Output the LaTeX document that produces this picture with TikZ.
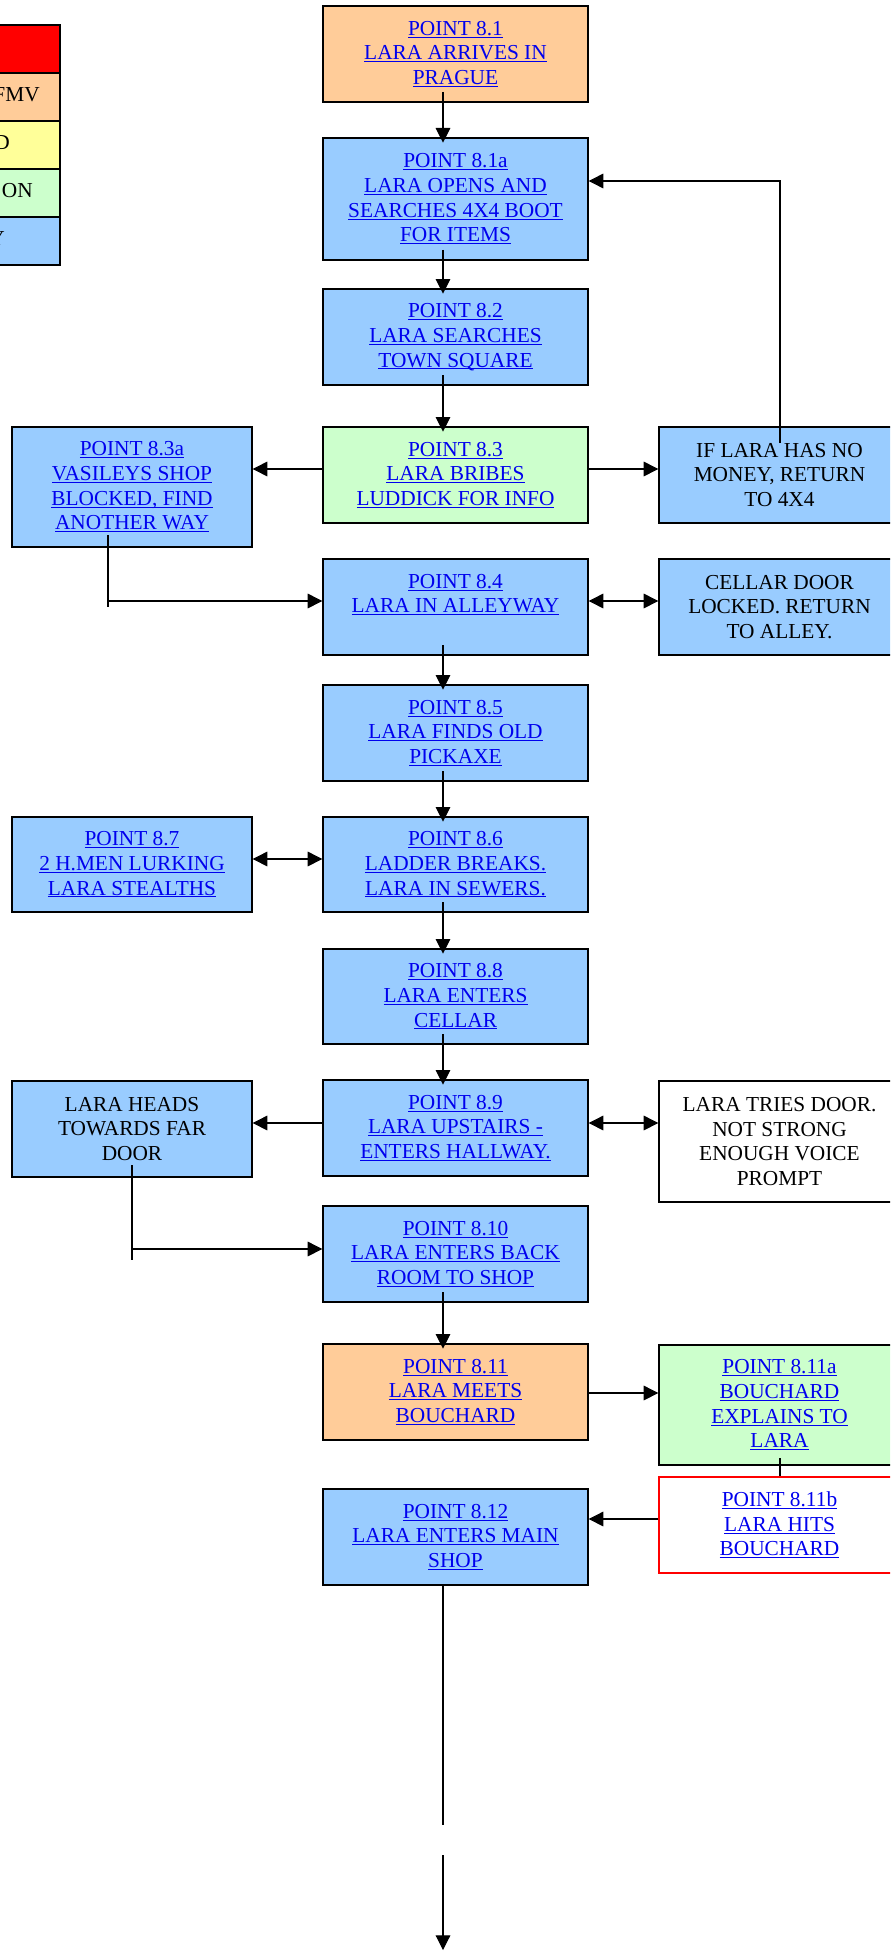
\documentclass[tikz,border=0pt]{standalone}
\usepackage{fontspec}
\setmainfont{Liberation Serif}
\usetikzlibrary{arrows.meta}
\definecolor{cOrange}{HTML}{FFCC99}
\definecolor{cBlue}{HTML}{99CCFF}
\definecolor{cGreen}{HTML}{CCFFCC}
\definecolor{cYellow}{HTML}{FFFF99}
\definecolor{cRed}{HTML}{FF0000}
\definecolor{lnk}{HTML}{0000EE}
\newcommand\lk[1]{\leavevmode\setbox0=\hbox{#1}\rlap{\raisebox{-1.8pt}{\rule{\wd0}{0.75pt}}}\box0}
\newcommand\bx[7]{\node[#6, minimum width={(#4-#2)*0.75pt}, minimum height={(#5-#3)*0.75pt}] (#1) at ({(#2+#4)/2},{(#3+#5)/2}) {#7};}
\tikzset{
  x=0.75pt, y=-0.75pt,
  boxbase/.style={draw=black, line width=1pt, inner sep=0pt, align=center,
    font=\fontsize{16}{18.5}\selectfont},
  bluebox/.style={boxbase, fill=cBlue},
  orangebox/.style={boxbase, fill=cOrange},
  greenbox/.style={boxbase, fill=cGreen},
  whitebox/.style={boxbase, fill=white},
  redbox/.style={boxbase, fill=white, draw=cRed},
  link/.style={text=lnk},
  legbox/.style={draw=black, line width=1.2pt, inner sep=0pt},
  legtext/.style={font=\fontsize{16}{18.5}\selectfont, inner sep=0pt, anchor=base east},
  conn/.style={line width=0.8pt},
  arr/.style={conn, -{Triangle[width=11pt,length=11pt]}},
  darr/.style={conn, {Triangle[width=11pt,length=11pt]}-{Triangle[width=11pt,length=11pt]}},
}
\begin{document}
\begin{tikzpicture}
\useasboundingbox (0,0) rectangle (890,1951);
\clip (0,0) rectangle (890,1951);

% legend
\bx{legR}{-200}{25}{60}{73}{legbox, fill=cRed}{}
\bx{legO}{-200}{73}{60}{121}{legbox, fill=cOrange}{}
\bx{legY}{-200}{121}{60}{169}{legbox, fill=cYellow}{}
\bx{legG}{-200}{169}{60}{217}{legbox, fill=cGreen}{}
\bx{legB}{-200}{217}{60}{265}{legbox, fill=cBlue}{}
\node[legtext] (tO) at (40,102) {FMV};
\node[legtext] (tY) at (10,150) {D};
\node[legtext] (tG) at (33,198) {ON};
\node[legtext] (tB) at (5,246) {Y};

% main column
\bx{p81}{323}{6}{588}{102}{orangebox, link}{\lk{POINT 8.1}\\\lk{LARA ARRIVES IN}\\\lk{PRAGUE}}
\bx{p81a}{323}{138}{588}{260}{bluebox, link}{\lk{POINT 8.1a}\\\lk{LARA OPENS AND}\\\lk{SEARCHES 4X4 BOOT}\\\lk{FOR ITEMS}}
\bx{p82}{323}{289}{588}{385}{bluebox, link}{\lk{POINT 8.2}\\\lk{LARA SEARCHES}\\\lk{TOWN SQUARE}}
\bx{p83}{323}{427}{588}{523}{greenbox, link}{\lk{POINT 8.3}\\\lk{LARA BRIBES}\\\lk{LUDDICK FOR INFO}}
\bx{p84}{323}{559}{588}{655}{bluebox, link}{\lk{POINT 8.4}\\\lk{LARA IN ALLEYWAY}\\\phantom{\lk{A}}}
\bx{p85}{323}{685}{588}{781}{bluebox, link}{\lk{POINT 8.5}\\\lk{LARA FINDS OLD}\\\lk{PICKAXE}}
\bx{p86}{323}{817}{588}{912}{bluebox, link}{\lk{POINT 8.6}\\\lk{LADDER BREAKS.}\\\lk{LARA IN SEWERS.}}
\bx{p88}{323}{949}{588}{1044}{bluebox, link}{\lk{POINT 8.8}\\\lk{LARA ENTERS}\\\lk{CELLAR}}
\bx{p89}{323}{1080}{588}{1176}{bluebox, link}{\lk{POINT 8.9}\\\lk{LARA UPSTAIRS -}\\\lk{ENTERS HALLWAY.}}
\bx{p810}{323}{1206}{588}{1302}{bluebox, link}{\lk{POINT 8.10}\\\lk{LARA ENTERS BACK}\\\lk{ROOM TO SHOP}}
\bx{p811}{323}{1344}{588}{1440}{orangebox, link}{\lk{POINT 8.11}\\\lk{LARA MEETS}\\\lk{BOUCHARD}}
\bx{p812}{323}{1489}{588}{1585}{bluebox, link}{\lk{POINT 8.12}\\\lk{LARA ENTERS MAIN}\\\lk{SHOP}}

% left column
\bx{p83a}{12}{427}{252}{547}{bluebox, link}{\lk{POINT 8.3a}\\\lk{VASILEYS SHOP}\\\lk{BLOCKED, FIND}\\\lk{ANOTHER WAY}}
\bx{p87}{12}{817}{252}{912}{bluebox, link}{\lk{POINT 8.7}\\\lk{2 H.MEN LURKING}\\\lk{LARA STEALTHS}}
\bx{heads}{12}{1081}{252}{1177}{bluebox}{LARA HEADS\\TOWARDS FAR\\DOOR}

% right column
\bx{nomoney}{659}{427}{900}{523}{bluebox}{IF LARA HAS NO\\MONEY, RETURN\\TO 4X4}
\bx{cellar}{659}{559}{900}{655}{bluebox}{CELLAR DOOR\\LOCKED. RETURN\\TO ALLEY.}
\bx{tries}{659}{1081}{900}{1202}{whitebox}{LARA TRIES DOOR.\\NOT STRONG\\ENOUGH VOICE\\PROMPT}
\bx{p811a}{659}{1345}{900}{1465}{greenbox, link}{\lk{POINT 8.11a}\\\lk{BOUCHARD}\\\lk{EXPLAINS TO}\\\lk{LARA}}
\bx{p811b}{659}{1477}{900}{1573}{redbox, link}{\lk{POINT 8.11b}\\\lk{LARA HITS}\\\lk{BOUCHARD}}

% helper coordinates
\coordinate (cx) at (443,0);
\coordinate (r83) at (0,469);
\coordinate (r84) at (0,601);
\coordinate (r86) at (0,859);
\coordinate (r89) at (0,1123);
\coordinate (r811) at (0,1393);
\coordinate (r811b) at (0,1519);
\coordinate (nmStart) at (780,443);
\coordinate (nmTurn) at (780,181);
\coordinate (aStart) at (108,535);
\coordinate (aEnd) at (108,607);
\coordinate (aTurn) at (108,601);
\coordinate (hStart) at (132,1165);
\coordinate (hEnd) at (132,1260);
\coordinate (hTurn) at (132,1249);
\coordinate (ab) at (780,1458);
\coordinate (endA) at (443,1825);
\coordinate (endB) at (443,1855);
\coordinate (endC) at (443,1950);

% main vertical connectors
\foreach \a/\b in {p81/p81a, p81a/p82, p82/p83, p84/p85, p85/p86, p86/p88, p88/p89, p810/p811}
  \draw[arr, shorten <=-8pt, shorten >=-4pt] (\a.south -| cx) -- (\b.north -| cx);

% row 8.3
\draw[arr] (p83.west |- r83) -- (p83a.east |- r83);
\draw[arr] (p83.east |- r83) -- (nomoney.west |- r83);
\draw[arr] (nmStart) -- (nmTurn) -- (nmTurn -| p81a.east);
% 8.3a to 8.4
\draw[conn] (aStart) -- (aEnd);
\draw[arr] (aTurn) -- (aTurn -| p84.west);
% row 8.4
\draw[darr] (p84.east |- r84) -- (cellar.west |- r84);
% row 8.6
\draw[darr] (p87.east |- r86) -- (p86.west |- r86);
% row 8.9
\draw[arr] (p89.west |- r89) -- (heads.east |- r89);
\draw[darr] (p89.east |- r89) -- (tries.west |- r89);
\draw[conn] (hStart) -- (hEnd);
\draw[arr] (hTurn) -- (hTurn -| p810.west);
% row 8.11
\draw[arr] (p811.east |- r811) -- (p811a.west |- r811);
\draw[conn] (ab) -- (p811b.north -| ab);
\draw[arr] (p811b.west |- r811b) -- (p812.east |- r811b);
% bottom
\draw[conn] (p812.south -| cx) -- (endA);
\draw[arr] (endB) -- (endC);
\end{tikzpicture}
\end{document}
